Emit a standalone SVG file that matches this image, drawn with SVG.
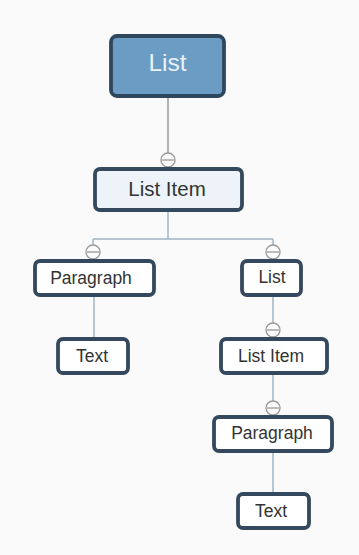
<svg xmlns="http://www.w3.org/2000/svg" width="359" height="555" viewBox="0 0 359 555">
<style>
.bg{fill:#fafafa}
.box{fill:#ffffff;stroke:#34495e;stroke-width:3.8}
.item{fill:#edf3f8;stroke:#34495e;stroke-width:3.8}
.root{fill:#6b9cc4;stroke:#2f475c;stroke-width:3.8}
.t{font-family:"Liberation Sans",Arial,sans-serif;fill:#333;text-anchor:middle;font-size:17.5px}
.edge{stroke:#9fb4c4;stroke-width:1.5;fill:none}
.knob circle{fill:#fafafa;stroke:#999;stroke-width:1.3}
.knob line{stroke:#999;stroke-width:1.3}
</style>
<defs>
<g id="knob" class="knob"><circle cx="0" cy="0" r="7"/><line x1="-6" y1="0" x2="6" y2="0"/></g>
</defs>
<rect class="bg" x="0" y="0" width="359" height="555"/>
<g id="connectors">
<path class="edge" d="M168 96 V153" style="stroke:#9a9a9a"/>
<path class="edge" d="M168 211 V239 M93 239 H273 M93 239 V245 M273 239 V245"/>
<path class="edge" d="M94 296 V338"/>
<path class="edge" d="M273 296 V323"/>
<path class="edge" d="M273 374 V401"/>
<path class="edge" d="M273 452 V493"/>
<use href="#knob" x="168" y="160"/>
<use href="#knob" x="93" y="252"/>
<use href="#knob" x="273" y="252"/>
<use href="#knob" x="273" y="330"/>
<use href="#knob" x="273" y="408"/>
</g>
<g id="n-root"><rect class="root" x="111" y="36" width="113" height="60" rx="6"/><text class="t" x="167.5" y="71" style="font-size:24.5px;fill:#eaf2fa">List</text></g>
<g id="n-listitem"><rect class="item" x="95" y="169" width="147" height="41" rx="5"/><text class="t" x="167" y="196" style="font-size:20.5px">List Item</text></g>
<g id="n-para1"><rect class="box" x="35" y="261" width="119" height="34" rx="5"/><text class="t" x="91" y="284">Paragraph</text></g>
<g id="n-text1"><rect class="box" x="58" y="339" width="70" height="34" rx="5"/><text class="t" x="92" y="362">Text</text></g>
<g id="n-list2"><rect class="box" x="242" y="261" width="59" height="34" rx="5"/><text class="t" x="272" y="283">List</text></g>
<g id="n-listitem2"><rect class="box" x="221" y="339" width="106" height="34" rx="5"/><text class="t" x="271" y="362">List Item</text></g>
<g id="n-para2"><rect class="box" x="214" y="417" width="118" height="34" rx="5"/><text class="t" x="272" y="439">Paragraph</text></g>
<g id="n-text2"><rect class="box" x="238" y="494" width="71" height="34" rx="5"/><text class="t" x="271" y="517">Text</text></g>
</svg>
